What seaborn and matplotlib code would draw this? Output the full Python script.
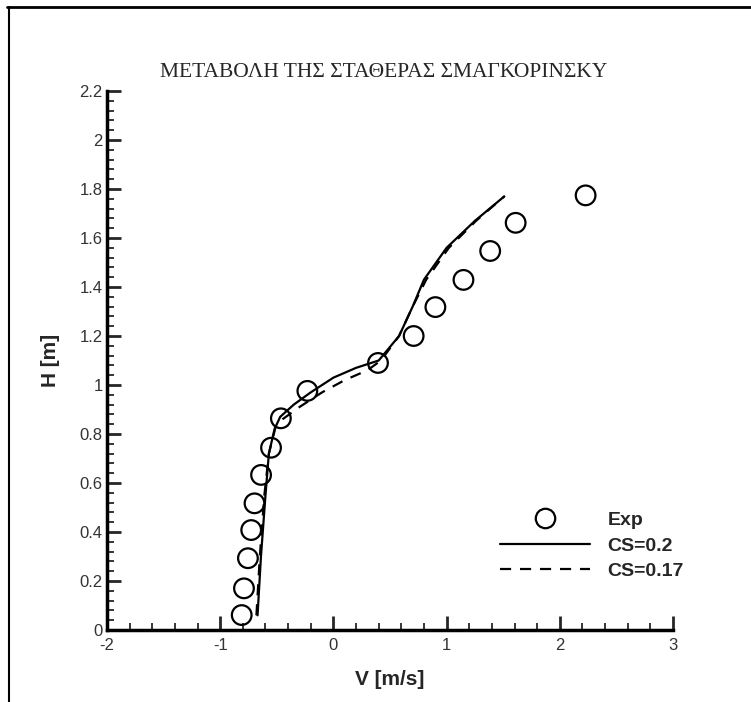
import numpy as np
import pandas as pd
import matplotlib
matplotlib.use("Agg")
import matplotlib.pyplot as plt
from matplotlib.lines import Line2D
from matplotlib.ticker import MultipleLocator
import seaborn as sns

# Experimental profile
exp_v = [-0.81, -0.79, -0.755, -0.726, -0.697, -0.639, -0.551, -0.464,
         -0.230, 0.394, 0.709, 0.901, 1.149, 1.385, 1.610, 2.228]
exp_h = [0.061, 0.170, 0.293, 0.408, 0.517, 0.633, 0.744, 0.864,
         0.976, 1.090, 1.200, 1.318, 1.429, 1.547, 1.662, 1.774]

# LES profile, Smagorinsky constant 0.2
cs02_v = [-0.67, -0.64, -0.60, -0.57, -0.52, -0.47, -0.35, -0.20, 0.00,
          0.20, 0.40, 0.58, 0.70, 0.80, 1.00, 1.25, 1.51]
cs02_h = [0.06, 0.30, 0.55, 0.72, 0.82, 0.87, 0.92, 0.97, 1.03,
          1.07, 1.10, 1.20, 1.32, 1.43, 1.56, 1.67, 1.77]

# LES profile, Smagorinsky constant 0.17
cs017_v = [-0.68, -0.65, -0.61, -0.57, -0.51, -0.45, -0.30, -0.10, 0.10,
           0.30, 0.42, 0.58, 0.70, 0.82, 1.02, 1.26, 1.51]
cs017_h = [0.06, 0.30, 0.55, 0.72, 0.83, 0.86, 0.91, 0.97, 1.02,
           1.06, 1.10, 1.20, 1.32, 1.43, 1.56, 1.67, 1.77]

x_ticks = [-2, -1, 0, 1, 2, 3]
y_ticks = [0, 0.2, 0.4, 0.6, 0.8, 1, 1.2, 1.4, 1.6, 1.8, 2, 2.2]
y_tick_labels = ["0", "0.2", "0.4", "0.6", "0.8", "1", "1.2", "1.4",
                 "1.6", "1.8", "2", "2.2"]

sns.set_style("white")
plt.rcParams["font.family"] = ["Liberation Sans", "DejaVu Sans"]

exp_df = pd.DataFrame({"V": exp_v, "H": exp_h})
cs02_df = pd.DataFrame({"V": cs02_v, "H": cs02_h})
cs017_df = pd.DataFrame({"V": cs017_v, "H": cs017_h})

fig = plt.figure(figsize=(7.51, 7.02), dpi=100)
ax = fig.add_axes([107 / 751, 72 / 702, 566 / 751, 539 / 702])

sns.lineplot(data=cs02_df, x="V", y="H", sort=False, estimator=None,
             color="black", lw=1.6, ax=ax)
sns.lineplot(data=cs017_df, x="V", y="H", sort=False, estimator=None,
             color="black", lw=1.6, ax=ax, linestyle=(0, (5, 4)))
sns.scatterplot(data=exp_df, x="V", y="H", marker="o", s=200,
                facecolor="none", edgecolor="black", linewidth=1.6, ax=ax,
                zorder=3)

ax.set_xlim(-2, 3)
ax.set_ylim(0, 2.2)
ax.set_xticks(x_ticks)
ax.set_xticklabels([str(t) for t in x_ticks])
ax.set_yticks(y_ticks)
ax.set_yticklabels(y_tick_labels)
ax.xaxis.set_minor_locator(MultipleLocator(0.2))
ax.yaxis.set_minor_locator(MultipleLocator(0.04))

for side in ["top", "right"]:
    ax.spines[side].set_visible(False)
for side in ["left", "bottom"]:
    ax.spines[side].set_linewidth(2.5)
    ax.spines[side].set_color("black")

ax.tick_params(which="major", direction="in", length=10, width=2,
               labelsize=12, labelcolor="#333333",
               bottom=True, left=True)
ax.tick_params(axis="x", which="major", pad=6)
ax.tick_params(axis="y", which="major", pad=3)
ax.tick_params(which="minor", direction="in", length=5, width=1.3,
               bottom=True, left=True)

ax.set_xlabel("V [m/s]", fontsize=15, fontweight="bold", labelpad=12)
ax.set_ylabel("H [m]", fontsize=15, fontweight="bold", labelpad=14)

fig.text(0.511, 0.890, "ΜΕΤΑΒΟΛΗ ΤΗΣ ΣΤΑΘΕΡΑΣ ΣΜΑΓΚΟΡΙΝΣΚΥ",
         family=["Liberation Serif", "DejaVu Serif"], fontsize=15.5,
         ha="center", va="baseline")

handles = [
    Line2D([], [], marker="o", ls="none", markersize=14,
           markerfacecolor="none", markeredgecolor="black",
           markeredgewidth=1.6),
    Line2D([], [], color="black", lw=1.6),
    Line2D([], [], color="black", lw=1.6, ls=(0, (5, 4))),
]
ax.legend(handles, ["Exp", "CS=0.2", "CS=0.17"], loc="upper left",
          bbox_to_anchor=(0.664, 0.252), frameon=False, handlelength=4.6,
          labelspacing=0.4, handletextpad=0.9,
          prop={"weight": "bold", "size": 14})

# Outer frame edges
fig.add_artist(Line2D([7 / 751, 1.0], [1 - 7 / 702, 1 - 7 / 702],
                      color="black", lw=2, transform=fig.transFigure))
fig.add_artist(Line2D([9 / 751, 9 / 751], [0.0, 1 - 7 / 702],
                      color="black", lw=1.5, transform=fig.transFigure))

fig.savefig("out.png", dpi=100, facecolor="white")
